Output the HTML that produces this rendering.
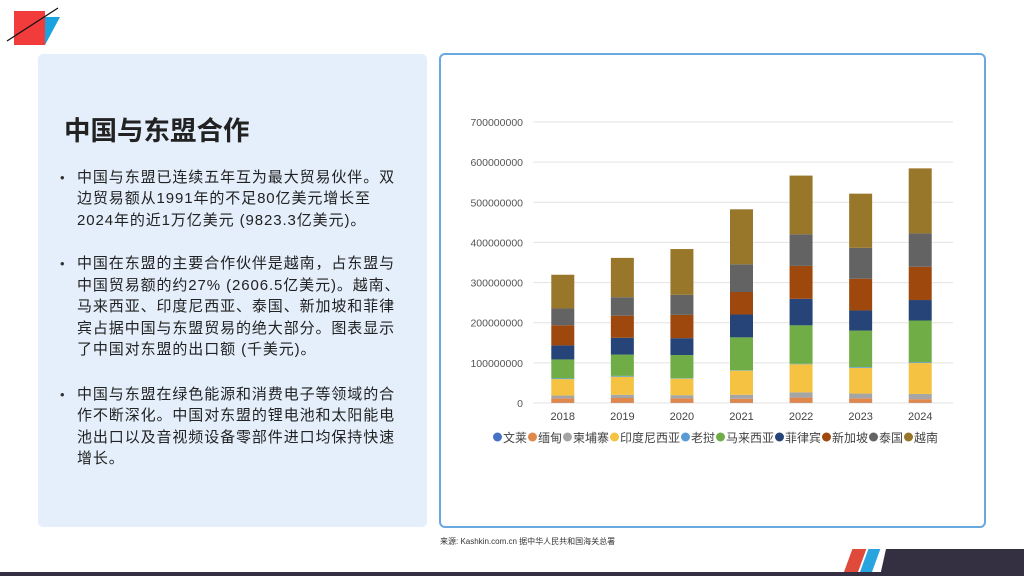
<!DOCTYPE html>
<html><head><meta charset="utf-8">
<style>
body{margin:0;width:1024px;height:576px;position:relative;background:#fff;font-family:"Liberation Sans","Noto Sans CJK SC",sans-serif;overflow:hidden}
.abs{position:absolute}
.line{position:absolute;left:77px;font-size:15px;letter-spacing:0.9px;color:#222;white-space:nowrap;line-height:20px}
.dot{position:absolute;left:60px;font-size:13px;color:#333}
</style></head><body>
<div class="abs" style="left:14px;top:11px;width:31px;height:34px;background:#f23b3b"></div>
<div class="abs" style="left:45px;top:17px;width:15px;height:28px;background:#1ba3e0;clip-path:polygon(0 0,100% 0,0 100%)"></div>
<svg class="abs" style="left:0;top:0" width="70" height="50"><line x1="7" y1="41" x2="58" y2="8" stroke="#111" stroke-width="1.3"/></svg>

<div class="abs" style="left:38px;top:54px;width:389px;height:473px;background:#e4effb;border-radius:5px"></div>
<div class="abs" style="left:64px;top:109px;font-size:26.5px;font-weight:bold;color:#222">中国与东盟合作</div>

<div>
<div class="dot" style="top:170px">•</div>
<div class="line" style="top:168px">中国与东盟已连续五年互为最大贸易伙伴。双</div>
<div class="line" style="top:189px">边贸易额从1991年的不足80亿美元增长至</div>
<div class="line" style="top:211px">2024年的近1万亿美元 (9823.3亿美元)。</div>
</div>
<div>
<div class="dot" style="top:256px">•</div>
<div class="line" style="top:254px">中国在东盟的主要合作伙伴是越南，占东盟与</div>
<div class="line" style="top:276px">中国贸易额的约27% (2606.5亿美元)。越南、</div>
<div class="line" style="top:297px">马来西亚、印度尼西亚、泰国、新加坡和菲律</div>
<div class="line" style="top:319px">宾占据中国与东盟贸易的绝大部分。图表显示</div>
<div class="line" style="top:340px">了中国对东盟的出口额 (千美元)。</div>
</div>
<div>
<div class="dot" style="top:387px">•</div>
<div class="line" style="top:385px">中国与东盟在绿色能源和消费电子等领域的合</div>
<div class="line" style="top:406px">作不断深化。中国对东盟的锂电池和太阳能电</div>
<div class="line" style="top:428px">池出口以及音视频设备零部件进口均保持快速</div>
<div class="line" style="top:449px">增长。</div>
</div>

<div class="abs" style="left:439px;top:53px;width:543px;height:471px;border:2px solid #6aa8e0;border-radius:6px;background:#fff"></div>
<svg id="chart" class="abs" style="left:0;top:0" width="1024" height="576"></svg>

<div class="abs" style="left:440px;top:536px;font-size:8px;color:#333">来源: Kashkin.com.cn 据中华人民共和国海关总署</div>
<div class="abs" style="left:848px;top:549px;width:14px;height:24px;background:#e04a3a;transform:skewX(-20deg)"></div>
<div class="abs" style="left:864px;top:549px;width:12px;height:24px;background:#2aa4de;transform:skewX(-20deg)"></div>
<div class="abs" style="left:880px;top:549px;width:150px;height:27px;background:#343041;clip-path:polygon(4% 0,100% 0,100% 100%,0 100%)"></div>
<div class="abs" style="left:0;top:572px;width:1024px;height:4px;background:#343041"></div>

<script>
const years=["2018","2019","2020","2021","2022","2023","2024"];
const seriesNames=["文莱","缅甸","柬埔寨","印度尼西亚","老挝","马来西亚","菲律宾","新加坡","泰国","越南"];
const seriesColors=["#4472c4","#e0874c","#a5a5a5","#f5c242","#5b9bd5","#70ad47","#264478","#9e480e","#636363","#98772a"];
const brunei=[0.5,0.5,0.5,0.5,0.5,0.5,0.5];
const myanmar=[11,12,11,10,13,11,9];
const cambodia=[7,8,8,10,13,12,13];
const indonesia=[41,45,41,60,70,64,77];
const laos=[2,2,1,1,1,2,2];
const malaysia=[47,53,58,82,96,91,104];
const philippines=[35,42,42,57,66,50,51];
const singapore=[50,55,58,56,82,79,83];
const thailand=[42,46,50,69,79,77,83];
const vietnam=[84,98,114,137,146,135,162];
const series=[brunei,myanmar,cambodia,indonesia,laos,malaysia,philippines,singapore,thailand,vietnam];
const yTicks=[0,100000000,200000000,300000000,400000000,500000000,600000000,700000000];
const UNIT=1e6;
const svg=document.getElementById('chart');
const NS='http://www.w3.org/2000/svg';
const y0=403,yTop=122,yMax=700000000;
function yScale(v){return y0-(v/yMax)*(y0-yTop);}
const x0=533,x1=950;
function xScale(i){const step=(x1-x0)/years.length;return x0+step*(i+0.5);}
function mk(t,a){const e=document.createElementNS(NS,t);for(const k in a)e.setAttribute(k,a[k]);svg.appendChild(e);return e;}
yTicks.forEach(v=>{
  const g=mk('line',{x1:x0,x2:x1+3,y1:yScale(v),y2:yScale(v),stroke:'#e3e3e3','stroke-width':1});
  
  
  const t=mk('text',{x:523,y:yScale(v)+4,'text-anchor':'end','font-size':'10.5','fill':'#555','font-family':'Liberation Sans, sans-serif'});
  t.textContent=String(v);
  
  
});
const bw=23;
years.forEach((yr,i)=>{
  let cum=0;
  series.forEach((s,k)=>{
    const v=s[i]*UNIT;
    const r=mk('rect',{x:xScale(i)-bw/2,y:yScale(cum+v),width:bw,height:Math.max(0,yScale(cum)-yScale(cum+v)),fill:seriesColors[k]});
    
    
    cum+=v;
  });
  const t=mk('text',{x:xScale(i),y:420,'text-anchor':'middle','font-size':'11','fill':'#444','font-family':'Liberation Sans, sans-serif'});
  t.textContent=yr;
  
  
});
let lx=493;
seriesNames.forEach((n,k)=>{
  const c=mk('circle',{cx:lx+4.5,cy:437,r:4.5,fill:seriesColors[k]});
  
  
  const t=mk('text',{x:lx+10,y:442,'font-size':'12','fill':'#444','font-family':'Noto Sans CJK SC, sans-serif'});
  t.textContent=n;
  
  
  lx+=10+n.length*12+1;
});
</script>
</body></html>
